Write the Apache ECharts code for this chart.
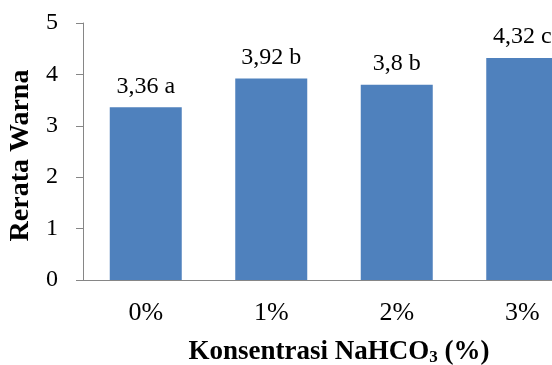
<!DOCTYPE html>
<html>
<head>
<meta charset="utf-8">
<script src="https://cdn.jsdelivr.net/npm/echarts@6/dist/echarts.min.js"></script>
<style>html,body{margin:0;padding:0;background:#fff;overflow:hidden;}#c{width:552px;height:365px;}</style>
</head>
<body>
<div id="c"></div>
<script>
const categories = ['0%', '1%', '2%', '3%'];
const values = [3.36, 3.92, 3.8, 4.32];
const letters = ['a', 'b', 'b', 'c'];
const yTicks = [0, 1, 2, 3, 4, 5];

const FONT = '"Liberation Serif", "Times New Roman", serif';
const chart = echarts.init(document.getElementById('c'));
chart.setOption({
  animation: false,
  backgroundColor: '#fff',
  grid: { left: 83, top: 23, width: 502, height: 257, containLabel: false, outerBoundsMode: 'none' },
  xAxis: {
    type: 'category',
    data: categories,
    axisLine: { lineStyle: { color: '#868686', width: 1 } },
    axisTick: { show: false },
    axisLabel: { color: '#000', fontFamily: FONT, fontSize: 26, margin: 20 },
    name: '{b|Konsentrasi NaHCO}{s|3}{b| (%)}',
    nameLocation: 'middle',
    nameGap: 59,
    nameTextStyle: {
      padding: [0, 0, 0, 10],
      rich: {
        b: { fontFamily: FONT, fontWeight: 'bold', fontSize: 27, color: '#000' },
        s: { fontFamily: FONT, fontWeight: 'bold', fontSize: 17, color: '#000', padding: [10, 0, 0, 0] }
      }
    }
  },
  yAxis: {
    type: 'value',
    min: yTicks[0],
    max: yTicks[yTicks.length - 1],
    interval: 1,
    splitLine: { show: false },
    axisLine: { show: true, lineStyle: { color: '#868686', width: 1 } },
    axisTick: { show: true, length: 7, lineStyle: { color: '#868686' } },
    axisLabel: { color: '#000', fontFamily: FONT, fontSize: 24, margin: 25 },
    name: 'Rerata Warna',
    nameLocation: 'middle',
    nameRotate: 90,
    nameGap: 35,
    nameTextStyle: { fontFamily: FONT, fontWeight: 'bold', fontSize: 28, color: '#000', padding: [0, 8, 0, 0] }
  },
  series: [{
    type: 'bar',
    data: values,
    barWidth: 72,
    itemStyle: { color: '#4F81BD' },
    label: {
      show: true,
      position: 'top',
      distance: 9,
      color: '#000',
      fontFamily: FONT,
      fontSize: 24,
      formatter: p => String(p.value).replace('.', ',') + ' ' + letters[p.dataIndex]
    }
  }]
});
</script>
</body>
</html>
